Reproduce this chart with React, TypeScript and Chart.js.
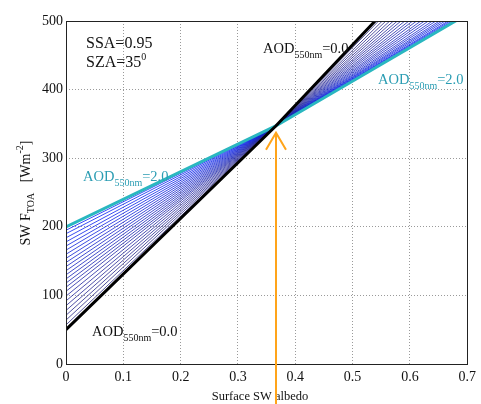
import { useEffect, useRef } from "react";
import { Chart, registerables } from "chart.js";

Chart.register(...registerables);

// Axis ticks
const albedoTicks = [0, 0.1, 0.2, 0.3, 0.4, 0.5, 0.6, 0.7];
const albedoTickLabels = ["0", "0.1", "0.2", "0.3", "0.4", "0.5", "0.6", "0.7"];
const fluxTicks = [0, 100, 200, 300, 400, 500];
const fluxTickLabels = ["0", "100", "200", "300", "400", "500"];

// Each curve is sampled at these surface albedos
const albedoNodes = [0, 0.366, 0.7];
// All curves pass through the same critical-albedo point
const criticalAlbedo = 0.366;
const criticalFlux = 347;
// Arrow tip flux at the critical albedo
const arrowTipFlux = 337;

// TOA SW flux for AOD(550nm) from 0.0 (first) to 2.0 (last)
const fluxAtZeroAlbedo = [
  50, 57, 64, 71, 78, 85, 92, 99, 106, 112, 118, 124, 130, 136, 142, 148, 154, 160, 166, 172, 178, 184, 190,
  195, 200,
];
const fluxAtMaxAlbedo = [
  642, 632, 622, 613, 604, 596, 588, 581, 574, 567, 561, 555, 549, 544, 539, 534, 530, 526, 523, 520, 517,
  515, 513, 511, 510,
];

const SERIF = "'Liberation Serif', 'Times New Roman', serif";
const TEAL_TEXT = "#2b9db3";
const CYAN_LINE = "#2ab7c0";

type Part = { text: string; size: number; dy: number };

function drawParts(ctx: CanvasRenderingContext2D, parts: Part[], x: number, y: number, color: string) {
  ctx.fillStyle = color;
  ctx.textBaseline = "alphabetic";
  ctx.textAlign = "left";
  let cx = x;
  for (const p of parts) {
    ctx.font = `${p.size}px ${SERIF}`;
    ctx.fillText(p.text, cx, y + p.dy);
    cx += ctx.measureText(p.text).width;
  }
}

function aodParts(value: string): Part[] {
  return [
    { text: "AOD", size: 14.5, dy: 0 },
    { text: "550nm", size: 10, dy: 4.5 },
    { text: "=" + value, size: 14.5, dy: 0 },
  ];
}

const annotations = {
  id: "annotations",
  afterDraw(chart: Chart) {
    const ctx = chart.ctx;
    const { left, right, top, bottom } = chart.chartArea;
    const xs = chart.scales.x;
    const ys = chart.scales.y;
    ctx.save();

    // plot box
    ctx.strokeStyle = "#222";
    ctx.lineWidth = 1;
    ctx.strokeRect(Math.round(left) + 0.5, Math.round(top) + 0.5, Math.round(right - left), Math.round(bottom - top));

    // parameters
    drawParts(ctx, [{ text: "SSA=0.95", size: 16, dy: 0 }], 86, 48, "#111");
    drawParts(
      ctx,
      [
        { text: "SZA=35", size: 16, dy: 0 },
        { text: "0", size: 10, dy: -7 },
      ],
      86,
      67,
      "#111"
    );

    // AOD labels
    drawParts(ctx, aodParts("0.0"), 263, 53, "#111");
    drawParts(ctx, aodParts("2.0"), 378, 84, TEAL_TEXT);
    drawParts(ctx, aodParts("2.0"), 83, 181, TEAL_TEXT);
    drawParts(ctx, aodParts("0.0"), 92, 336, "#111");

    // x-axis title
    ctx.font = `12.5px ${SERIF}`;
    ctx.fillStyle = "#111";
    ctx.textAlign = "center";
    ctx.textBaseline = "alphabetic";
    ctx.fillText("Surface SW albedo", 260, 400);

    // y-axis title (rotated)
    ctx.save();
    ctx.translate(30, 193);
    ctx.rotate(-Math.PI / 2);
    const yParts: Part[] = [
      { text: "SW F", size: 14, dy: 0 },
      { text: "TOA", size: 10, dy: 4 },
      { text: "   [Wm", size: 14, dy: 0 },
      { text: "-2", size: 10, dy: -7 },
      { text: "]", size: 14, dy: 0 },
    ];
    let total = 0;
    for (const p of yParts) {
      ctx.font = `${p.size}px ${SERIF}`;
      total += ctx.measureText(p.text).width;
    }
    drawParts(ctx, yParts, -total / 2, 0, "#111");
    ctx.restore();

    // arrow marking the critical albedo
    const ax = Math.round(xs.getPixelForValue(criticalAlbedo));
    const tipY = ys.getPixelForValue(arrowTipFlux);
    ctx.strokeStyle = "#ffa41a";
    ctx.lineWidth = 2;
    ctx.beginPath();
    ctx.moveTo(ax, chart.height);
    ctx.lineTo(ax, tipY);
    ctx.moveTo(ax - 10, tipY + 17);
    ctx.lineTo(ax, tipY);
    ctx.lineTo(ax + 10, tipY + 17);
    ctx.stroke();

    ctx.restore();
  },
};

function curveColor(i: number, n: number): string {
  if (i === 0) return "#000";
  if (i === n - 1) return CYAN_LINE;
  const t = i / (n - 1);
  const r = Math.round(45 - 45 * t);
  const g = Math.round(40 - 10 * t);
  const b = Math.round(120 + 135 * t);
  return `rgb(${r},${g},${b})`;
}

export default function App() {
  const canvasRef = useRef<HTMLCanvasElement | null>(null);

  useEffect(() => {
    document.body.style.margin = "0";
    const canvas = canvasRef.current;
    if (!canvas) return;
    const n = fluxAtZeroAlbedo.length;
    const datasets = fluxAtZeroAlbedo.map((y0, i) => {
      const edge = i === 0 || i === n - 1;
      return {
        data: [
          { x: albedoNodes[0], y: y0 },
          { x: albedoNodes[1], y: criticalFlux },
          { x: albedoNodes[2], y: fluxAtMaxAlbedo[i] },
        ],
        showLine: true,
        borderColor: curveColor(i, n),
        borderWidth: edge ? 3 : 0.8,
        pointRadius: 0,
        tension: 0,
        order: edge ? 0 : 1,
      };
    });

    const chart = new Chart(canvas, {
      type: "scatter",
      data: { datasets },
      options: {
        animation: false,
        responsive: false,
        layout: { padding: { top: 21, right: 11, left: 0, bottom: 0 } },
        plugins: { legend: { display: false }, tooltip: { enabled: false } },
        scales: {
          x: {
            type: "linear",
            min: 0,
            max: 0.7,
            afterBuildTicks: (axis: any) => {
              axis.ticks = albedoTicks.map((v) => ({ value: v }));
            },
            afterFit: (axis: any) => {
              axis.height = 40;
            },
            ticks: {
              callback: (_v: any, idx: number) => albedoTickLabels[idx],
              font: { family: SERIF, size: 14 },
              color: "#111",
              padding: 5,
              maxRotation: 0,
            },
            grid: { color: "#9a9a9a", lineWidth: 1, drawTicks: false },
            border: { display: false, dash: [1, 2] },
          },
          y: {
            type: "linear",
            min: 0,
            max: 500,
            afterBuildTicks: (axis: any) => {
              axis.ticks = fluxTicks.map((v) => ({ value: v }));
            },
            afterFit: (axis: any) => {
              axis.width = 66;
            },
            ticks: {
              callback: (_v: any, idx: number) => fluxTickLabels[idx],
              font: { family: SERIF, size: 14 },
              color: "#111",
              padding: 3,
            },
            grid: { color: "#9a9a9a", lineWidth: 1, drawTicks: false },
            border: { display: false, dash: [1, 2] },
          },
        },
      },
      plugins: [annotations],
    });
    return () => chart.destroy();
  }, []);

  return (
    <div style={{ width: 481, height: 404, background: "#fff" }}>
      <canvas ref={canvasRef} width={481} height={404} style={{ display: "block" }} />
    </div>
  );
}
